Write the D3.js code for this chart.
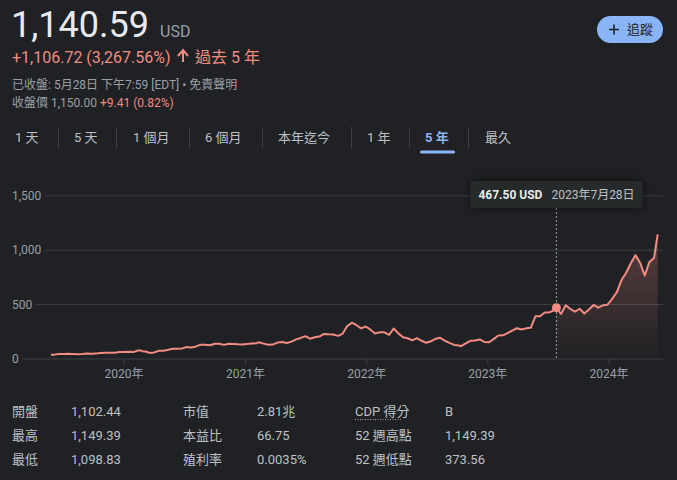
<!DOCTYPE html>
<html><head><meta charset="utf-8">
<script src="https://cdn.jsdelivr.net/npm/d3@7"></script>
<style>
html,body{margin:0;padding:0;background:#202124;}
svg{display:block;font-family:Roboto,"Liberation Sans","Noto Sans CJK TC",sans-serif;}
</style></head><body>
<svg id="c" width="677" height="480"></svg>
<script>
const dates = ["2019-05-28","2019-06-07","2019-06-21","2019-07-05","2019-07-19","2019-08-02","2019-08-16","2019-08-30","2019-09-13","2019-09-27","2019-10-11","2019-10-25","2019-11-08","2019-11-22","2019-12-06","2019-12-20",
"2020-01-03","2020-01-17","2020-01-31","2020-02-14","2020-02-21","2020-02-28","2020-03-06","2020-03-13","2020-03-20","2020-04-03","2020-04-17","2020-05-01","2020-05-15","2020-05-29","2020-06-12","2020-06-26","2020-07-10","2020-07-24","2020-08-07","2020-08-21","2020-09-04","2020-09-18","2020-10-02","2020-10-16","2020-10-30","2020-11-13","2020-11-27","2020-12-11","2020-12-24",
"2021-01-08","2021-01-22","2021-02-05","2021-02-12","2021-02-26","2021-03-12","2021-03-26","2021-04-09","2021-04-23","2021-05-07","2021-05-21","2021-06-04","2021-06-18","2021-07-02","2021-07-16","2021-07-30","2021-08-13","2021-08-27","2021-09-10","2021-09-24","2021-10-08","2021-10-22","2021-11-05","2021-11-19","2021-12-03","2021-12-17","2021-12-31",
"2022-01-14","2022-01-28","2022-02-11","2022-02-25","2022-03-11","2022-03-25","2022-04-08","2022-04-22","2022-05-06","2022-05-20","2022-06-03","2022-06-17","2022-07-01","2022-07-15","2022-07-29","2022-08-12","2022-08-26","2022-09-09","2022-09-23","2022-10-07","2022-10-14","2022-10-28","2022-11-11","2022-11-25","2022-12-09","2022-12-23",
"2023-01-06","2023-01-20","2023-02-03","2023-02-17","2023-03-03","2023-03-17","2023-03-31","2023-04-14","2023-04-28","2023-05-12","2023-05-26","2023-06-09","2023-06-23","2023-07-07","2023-07-21","2023-07-28","2023-08-11","2023-08-25","2023-09-08","2023-09-22","2023-10-06","2023-10-20","2023-11-03","2023-11-17","2023-12-01","2023-12-15","2023-12-29",
"2024-01-12","2024-01-26","2024-02-09","2024-02-23","2024-03-08","2024-03-22","2024-04-05","2024-04-19","2024-05-03","2024-05-17","2024-05-24","2024-05-28"];
const prices = [33.9,35.6,40.5,41.6,43.7,41.5,40.2,42.0,45.5,43.5,47.0,50.0,52.5,52.0,53.0,59.0,
59.5,61.5,59.0,74.0,74.5,67.5,65,60,51,56,71,72,80,89,89,93,105,102,111,127,126,122,135,136,125,135,134,130,129,
133,137,141,149,137,126,128,146,152,142,155,176,189,205,182,195,202,226,222,220,208,227,298,329,306,277,294,
265,229,242,241,218,276,231,195,186,167,187,163,145,158,181,190,163,143,125,120,113,138,163,165,175,152,
149,178,211,213,234,257,278,267,277,283,389,388,422,425,443,467.5,409,490,455,430,457,413,450,492,467,489,495,
548,610,721,788,875,950,880,762,887,924,1065,1140.59];
const yTicks = [0,500,1000,1500];
const xTickYears = [2020,2021,2022,2023,2024];
const tabs = ["1 天","5 天","1 個月","6 個月","本年迄今","1 年","5 年","最久"];
const statLabels1 = ["開盤","最高","最低"], statValues1 = ["1,102.44","1,149.39","1,098.83"];
const statLabels2 = ["市值","本益比","殖利率"], statValues2 = ["2.81兆","66.75","0.0035%"];
const statLabels3 = ["CDP 得分","52 週高點","52 週低點"], statValues3 = ["B","1,149.39","373.56"];
const hoverDate = "2023-07-28", hoverValue = 467.50;

const parse = d3.timeParse("%Y-%m-%d");
const data = dates.map((d,i)=>({date:parse(d), v:prices[i]}));
const svg = d3.select("#c");
const TXT="#e8eaed", GREY="#9aa0a6", RED="#f28b82", BLUE="#8ab4f8", GRID="#3c4043";

// Header
svg.append("text").attr("x",11).attr("y",37).attr("fill",TXT).attr("font-size",36).text("1,140.59");
svg.append("text").attr("x",160).attr("y",37).attr("fill",GREY).attr("font-size",16).text("USD");
svg.append("text").attr("x",12).attr("y",63).attr("fill",RED).attr("font-size",16).text("+1,106.72 (3,267.56%)");
svg.append("path").attr("d","M178,56 l5,-6 l5,6 M183,50 v12").attr("stroke",RED).attr("stroke-width",2).attr("fill","none");
svg.append("text").attr("x",195).attr("y",63).attr("fill",RED).attr("font-size",16).text("過去 5 年");
svg.append("text").attr("x",12).attr("y",89).attr("fill",GREY).attr("font-size",12).text("已收盤: 5月28日 下午7:59 [EDT] • 免責聲明");
const l4 = svg.append("text").attr("x",12).attr("y",107).attr("fill",GREY).attr("font-size",12);
l4.append("tspan").text("收盤價 1,150.00 ");
l4.append("tspan").attr("fill",RED).text("+9.41 (0.82%)");

// Follow button
svg.append("rect").attr("x",597).attr("y",16).attr("width",66).attr("height",27).attr("rx",13.5).attr("fill",BLUE);
svg.append("path").attr("d","M609,29.5 h10 M614,24.5 v10").attr("stroke","#202124").attr("stroke-width",1.6);
svg.append("text").attr("x",627).attr("y",34).attr("fill","#202124").attr("font-size",13).text("追蹤");

// Tabs
const tabX = [15,74,133,205,278,367,425,485];
const sepX = [58,116,189,262,351,409,468];
tabs.forEach((t,i)=>{
  svg.append("text").attr("x",tabX[i]).attr("y",142).attr("font-size",13)
    .attr("fill", i===6?BLUE:"#bdc1c6").attr("font-weight", i===6?"bold":"normal").text(t);
});
sepX.forEach(x=>svg.append("line").attr("x1",x+0.5).attr("x2",x+0.5).attr("y1",127).attr("y2",148).attr("stroke",GRID));
svg.append("rect").attr("x",420).attr("y",150.5).attr("width",35).attr("height",3).attr("rx",1.5).attr("fill",BLUE);

// Scales
const x = d3.scaleTime().domain([data[0].date, data[data.length-1].date]).range([51,657.7]);
const y = d3.scaleLinear().domain([0,1500]).range([358.5,195.3]);
const right = 663;

// Y axis with gridlines
const yAxis = svg.append("g").attr("transform",`translate(${right},0)`)
  .call(d3.axisLeft(y).tickValues(yTicks).tickFormat(d3.format(",")).tickSize(right-40).tickPadding(0));
yAxis.select(".domain").remove();
yAxis.selectAll("line").attr("stroke",GRID);
yAxis.selectAll("text").attr("x",-(right-12)).attr("dy","0.35em").attr("text-anchor","start")
  .attr("fill",GREY).attr("font-size",12).attr("font-family","Roboto,'Liberation Sans',sans-serif");
yAxis.selectAll(".tick").each(function(){
  const t = d3.select(this).select("text").node();
  const w = t.getComputedTextLength();
  d3.select(this).select("line").attr("x2",-(right-(12+w+3)));
});

// X axis
const xAxis = svg.append("g").attr("transform",`translate(0,${y(0)})`)
  .call(d3.axisBottom(x).tickValues(xTickYears.map(yr=>new Date(yr,0,1))).tickFormat(d=>d.getFullYear()+"年").tickSize(6).tickPadding(5));
xAxis.select(".domain").remove();
xAxis.selectAll("line").attr("stroke",GRID);
xAxis.selectAll("text").attr("fill",GREY).attr("font-size",12).attr("font-family","Roboto,'Noto Sans CJK TC',sans-serif");

// Area gradient after hover
const hd = parse(hoverDate);
const defs = svg.append("defs");
const grad = defs.append("linearGradient").attr("id","g").attr("gradientUnits","userSpaceOnUse")
  .attr("x1",0).attr("x2",0).attr("y1",y(1150)).attr("y2",y(0));
grad.append("stop").attr("offset",0).attr("stop-color",RED).attr("stop-opacity",0.28);
grad.append("stop").attr("offset",1).attr("stop-color",RED).attr("stop-opacity",0);
const after = data.filter(d=>d.date>=hd);
svg.append("path").datum(after).attr("fill","url(#g)")
  .attr("d",d3.area().x(d=>x(d.date)).y0(y(0)).y1(d=>y(d.v)));

// Line
svg.append("path").datum(data).attr("fill","none").attr("stroke",RED).attr("stroke-width",2)
  .attr("stroke-linejoin","round").attr("d",d3.line().x(d=>x(d.date)).y(d=>y(d.v)));

// Hover
const hx = x(hd);
svg.append("line").attr("x1",hx).attr("x2",hx).attr("y1",208).attr("y2",y(0))
  .attr("stroke",GREY).attr("stroke-dasharray","2,2").attr("stroke-width",1);
svg.append("circle").attr("cx",hx).attr("cy",y(hoverValue)).attr("r",4.5).attr("fill",RED);
const f = defs.append("filter").attr("id","sh").attr("x","-20%").attr("y","-60%").attr("width","140%").attr("height","220%");
f.append("feDropShadow").attr("dx",0).attr("dy",0).attr("stdDeviation",5).attr("flood-color","#000").attr("flood-opacity",0.6);
svg.append("rect").attr("x",hx-86).attr("y",181).attr("width",172).attr("height",27).attr("rx",3)
  .attr("fill","#28292c").attr("filter","url(#sh)");
svg.append("text").attr("x",hx-78).attr("y",199).attr("fill",TXT).attr("font-size",12).attr("font-weight","bold")
  .text(d3.format(".2f")(hoverValue)+" USD");
svg.append("text").attr("x",hx-5).attr("y",199).attr("fill","#bdc1c6").attr("font-size",12).text("2023年7月28日");

// Stats
const rowsY = [416,440,464];
const cols = [[12,71,statLabels1,statValues1],[183,257,statLabels2,statValues2],[355,445,statLabels3,statValues3]];
cols.forEach(([lx,vx,L,V])=>{
  L.forEach((t,i)=>svg.append("text").attr("x",lx).attr("y",rowsY[i]).attr("fill","#bdc1c6").attr("font-size",13).text(t));
  V.forEach((t,i)=>svg.append("text").attr("x",vx).attr("y",rowsY[i]).attr("fill","#bdc1c6").attr("font-size",13).text(t));
});
svg.append("line").attr("x1",355).attr("x2",402).attr("y1",419.5).attr("y2",419.5)
  .attr("stroke","#9aa0a6").attr("stroke-dasharray","1,1.5");
</script>
</body></html>
